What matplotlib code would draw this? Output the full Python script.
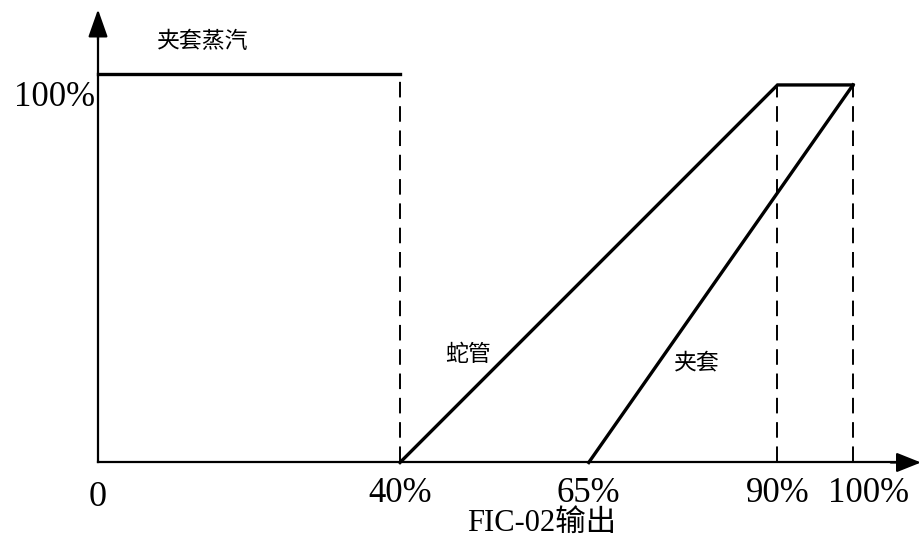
import matplotlib
matplotlib.use('Agg')
import matplotlib.pyplot as plt

# values, in percent of FIC-02 output / valve opening
steam_x = [0, 40]
steam_y = [103, 103]
coil_x = [40, 90, 100]
coil_y = [0, 100, 100]
jacket_x = [65, 100]
jacket_y = [0, 100]
dash_x = [40, 90, 100]
dash_top = [103, 100, 100]
tick_txt = ['40%', '65%', '90%', '100%']

# where the tick texts sit (last one is nudged right like in the original)
tick_label_x = [40, 65, 90, 102]
x_end = 109
y_end = 120

latin = ['Liberation Serif', 'Noto Sans CJK SC']
cjk = ['Noto Sans CJK SC', 'DejaVu Sans']

fig = plt.figure(figsize=(9.22, 5.38), dpi=100)
ax = fig.add_axes([0, 0, 1, 1])
ax.set_xlim(-12.98, 109.14)
ax.set_ylim(-20.0, 122.5)
ax.axis('off')

# axes with arrow heads
ax.plot([0, 0], [0, y_end - 5], color='black', lw=1.6)
ax.plot([0, x_end - 2], [0, 0], color='black', lw=1.6)
ax.annotate('', xy=(0, y_end), xytext=(0, y_end - 8),
            arrowprops=dict(arrowstyle='-|>,head_length=17,head_width=6',
                            mutation_scale=1, color='black', lw=1.6,
                            shrinkA=0, shrinkB=0), annotation_clip=False)
ax.annotate('', xy=(x_end, 0), xytext=(x_end - 4, 0),
            arrowprops=dict(arrowstyle='-|>,head_length=15,head_width=6',
                            mutation_scale=1, color='black', lw=1.6,
                            shrinkA=0, shrinkB=0), annotation_clip=False)

# guide lines
for x, top in zip(dash_x, dash_top):
    ax.plot([x, x], [0, top], color='black', lw=1.4, ls=(0, (8, 4.5)))

ax.plot(steam_x, steam_y, color='black', lw=2.4)
ax.plot(coil_x, coil_y, color='black', lw=2.4, solid_joinstyle='miter')
ax.plot(jacket_x, jacket_y, color='black', lw=2.4)

# labels
ax.text(0, -9.3, '0', family=latin, fontsize=26, ha='center', va='center')
for x, t in zip(tick_label_x, tick_txt):
    ax.text(x, -8.1, t, family=latin, fontsize=25, ha='center', va='center')
ax.text(-0.4, 96.6, '100%', family=latin, fontsize=25, ha='right', va='center')
ax.text(58.8, -16.2, 'FIC-02输出', family=latin, fontsize=22, ha='center', va='center')
ax.text(13.9, 111.4, '夹套蒸汽', family=cjk, fontsize=16.5, ha='center', va='center')
ax.text(49, 28.7, '蛇管', family=cjk, fontsize=16.5, ha='center', va='center')
ax.text(79.3, 26.4, '夹套', family=cjk, fontsize=16.5, ha='center', va='center')

fig.savefig('out.png', dpi=100)
